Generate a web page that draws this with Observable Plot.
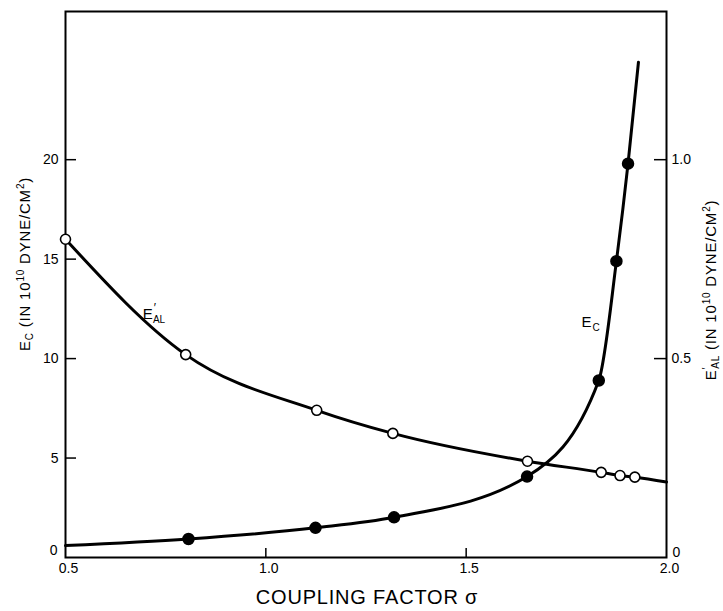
<!DOCTYPE html>
<html><head><meta charset="utf-8">
<script src="https://cdn.jsdelivr.net/npm/d3@7"></script>
<script src="https://cdn.jsdelivr.net/npm/@observablehq/plot@0.6"></script>
<style>body{margin:0;background:#fff;} svg{display:block}</style>
</head><body><div id="chart"></div>
<script>
// E'_AL (right axis, 10^10 dyne/cm^2) — open circles
const alSigma = [0.5, 0.80, 1.127, 1.317, 1.653, 1.837, 1.884, 1.921];
const alValue = [0.800, 0.510, 0.370, 0.312, 0.242, 0.214, 0.206, 0.202];
// traced curve for E'_AL (markers plus curve end)
const alCurveSigma = [0.5, 0.80, 1.127, 1.317, 1.653, 1.837, 1.884, 1.921, 2.0];
const alCurveValue = [0.800, 0.510, 0.370, 0.312, 0.242, 0.214, 0.206, 0.202, 0.190];
// E_C (left axis, 10^10 dyne/cm^2) — filled circles
const ecSigma = [0.807, 1.124, 1.320, 1.652, 1.831, 1.875, 1.904];
const ecValue = [0.93, 1.49, 2.02, 4.07, 8.9, 14.9, 19.8];
// traced curve for E_C (markers plus curve ends)
const ecCurveSigma = [0.5, 0.807, 1.124, 1.320, 1.652, 1.831, 1.875, 1.904, 1.930];
const ecCurveValue = [0.60, 0.93, 1.49, 2.02, 4.07, 8.9, 14.9, 19.8, 24.9];
// ticks
const xTicks = [0.5, 1.0, 1.5, 2.0];
const xInnerTicks = [1.0, 1.5];
const leftTicks = [5, 10, 15, 20];
const rightTicks = [0.5, 1.0];
const ratio = 20; // left-axis units per right-axis unit
// curve labels
const labelNames = ["E", "E"];
const labelSub = ["AL", "C"];
const labelSup = ["\u2032", ""];
const labelSigma = [0.722, 1.812];
const labelValue = [11.95, 11.58];

const W = 723, H = 611;
const mL = 65, mR = 57, mT = 11, mB = 54;
const plotW = W - mL - mR, plotH = H - mT - mB;
const font = "'Liberation Sans', Arial, Helvetica, sans-serif";

const alRows = alSigma.map((s, i) => ({s, v: alValue[i]}));
const alCurve = alCurveSigma.map((s, i) => ({s, v: alCurveValue[i]}));
const ecRows = ecSigma.map((s, i) => ({s, v: ecValue[i]}));
const ecCurve = ecCurveSigma.map((s, i) => ({s, v: ecCurveValue[i]}));

const chart = Plot.plot({
  width: W, height: H,
  marginLeft: mL, marginRight: mR, marginTop: mT, marginBottom: mB,
  style: {fontFamily: font, fontSize: "14px", color: "black", background: "white"},
  x: {domain: [0.5, 2.0], label: null},
  y: {domain: [0, 27.45], label: null},
  marks: [
    Plot.frame({strokeWidth: 2}),
    Plot.ruleY(leftTicks, {insetRight: plotW - 11, strokeWidth: 1.5}),
    Plot.ruleY(rightTicks.map(d => d * ratio), {insetLeft: plotW - 12, strokeWidth: 1.5}),
    Plot.ruleX(xInnerTicks, {insetTop: plotH - 9, strokeWidth: 1.5}),
    Plot.axisX(xTicks, {tickSize: 0, tickPadding: 6, dx: 3, tickFormat: d3.format(".1f"), fontSize: 14, label: null}),
    Plot.axisY(leftTicks, {anchor: "left", tickSize: 0, tickPadding: 7, fontSize: 14, label: null}),
    Plot.axisY([0], {anchor: "left", tickSize: 0, tickPadding: 8, dy: -7, fontSize: 14, label: null}),
    Plot.axisY(rightTicks.map(d => d * ratio), {anchor: "right", tickSize: 0, tickPadding: 5, fontSize: 14, tickFormat: d => (d / ratio).toFixed(1), label: null}),
    Plot.axisY([0], {anchor: "right", tickSize: 0, tickPadding: 6, dy: -5, fontSize: 14, label: null}),
    Plot.line(alCurve, {x: "s", y: d => d.v * ratio, curve: "monotone-x", strokeWidth: 3, stroke: "black"}),
    Plot.line(ecCurve, {x: "s", y: "v", curve: "monotone-x", strokeWidth: 3, stroke: "black"}),
    Plot.dot(ecRows, {x: "s", y: "v", r: 5.5, fill: "black", stroke: "black"}),
    Plot.dot(alRows, {x: "s", y: d => d.v * ratio, r: 5, fill: "white", stroke: "black", strokeWidth: 1.6})
  ]
});

const svg = d3.select(chart);
const sx = chart.scale("x"), sy = chart.scale("y");
svg.attr("font-family", font);

// curve labels
labelNames.forEach((n, i) => {
  const t = svg.append("text")
    .attr("x", sx.apply(labelSigma[i]))
    .attr("y", sy.apply(labelValue[i]))
    .attr("font-size", 15).attr("fill", "black");
  t.append("tspan").text(n);
  if (labelSup[i]) {
    t.append("tspan").attr("font-size", 12).attr("dx", 1).attr("dy", -7).text(labelSup[i]);
    t.append("tspan").attr("font-size", 10).attr("dx", -3).attr("dy", 11).text(labelSub[i]);
  } else {
    t.append("tspan").attr("font-size", 10).attr("dx", 1).attr("dy", 4).text(labelSub[i]);
  }
});

// axis titles
function unitTitle(sel, sub, sup) {
  sel.append("tspan").text("E");
  if (sup) {
    sel.append("tspan").attr("font-size", 10).attr("dy", -6).text(sup);
    sel.append("tspan").attr("font-size", 10).attr("dx", -2).attr("dy", 9).text(sub);
    sel.append("tspan").attr("dy", -3).text(" (IN 10");
  } else {
    sel.append("tspan").attr("font-size", 10).attr("dy", 3).text(sub);
    sel.append("tspan").attr("dy", -3).text(" (IN 10");
  }
  sel.append("tspan").attr("font-size", 10).attr("dy", -6).text("10");
  sel.append("tspan").attr("dy", 6).text(" DYNE/CM");
  sel.append("tspan").attr("font-size", 10).attr("dy", -6).text("2");
  sel.append("tspan").attr("dy", 6).text(")");
}
unitTitle(svg.append("text").attr("transform", "translate(30,264) rotate(-90)")
  .attr("text-anchor", "middle").attr("font-size", 15).attr("letter-spacing", 0.8), "C", "");
unitTitle(svg.append("text").attr("transform", "translate(716,290) rotate(-90)")
  .attr("text-anchor", "middle").attr("font-size", 15).attr("letter-spacing", 0.8), "AL", "\u2032");

svg.append("text").attr("x", 367).attr("y", 604).attr("text-anchor", "middle")
  .attr("font-size", 20).attr("letter-spacing", 0.8).text("COUPLING FACTOR \u03c3");

document.getElementById("chart").appendChild(chart);
</script>
</body></html>
